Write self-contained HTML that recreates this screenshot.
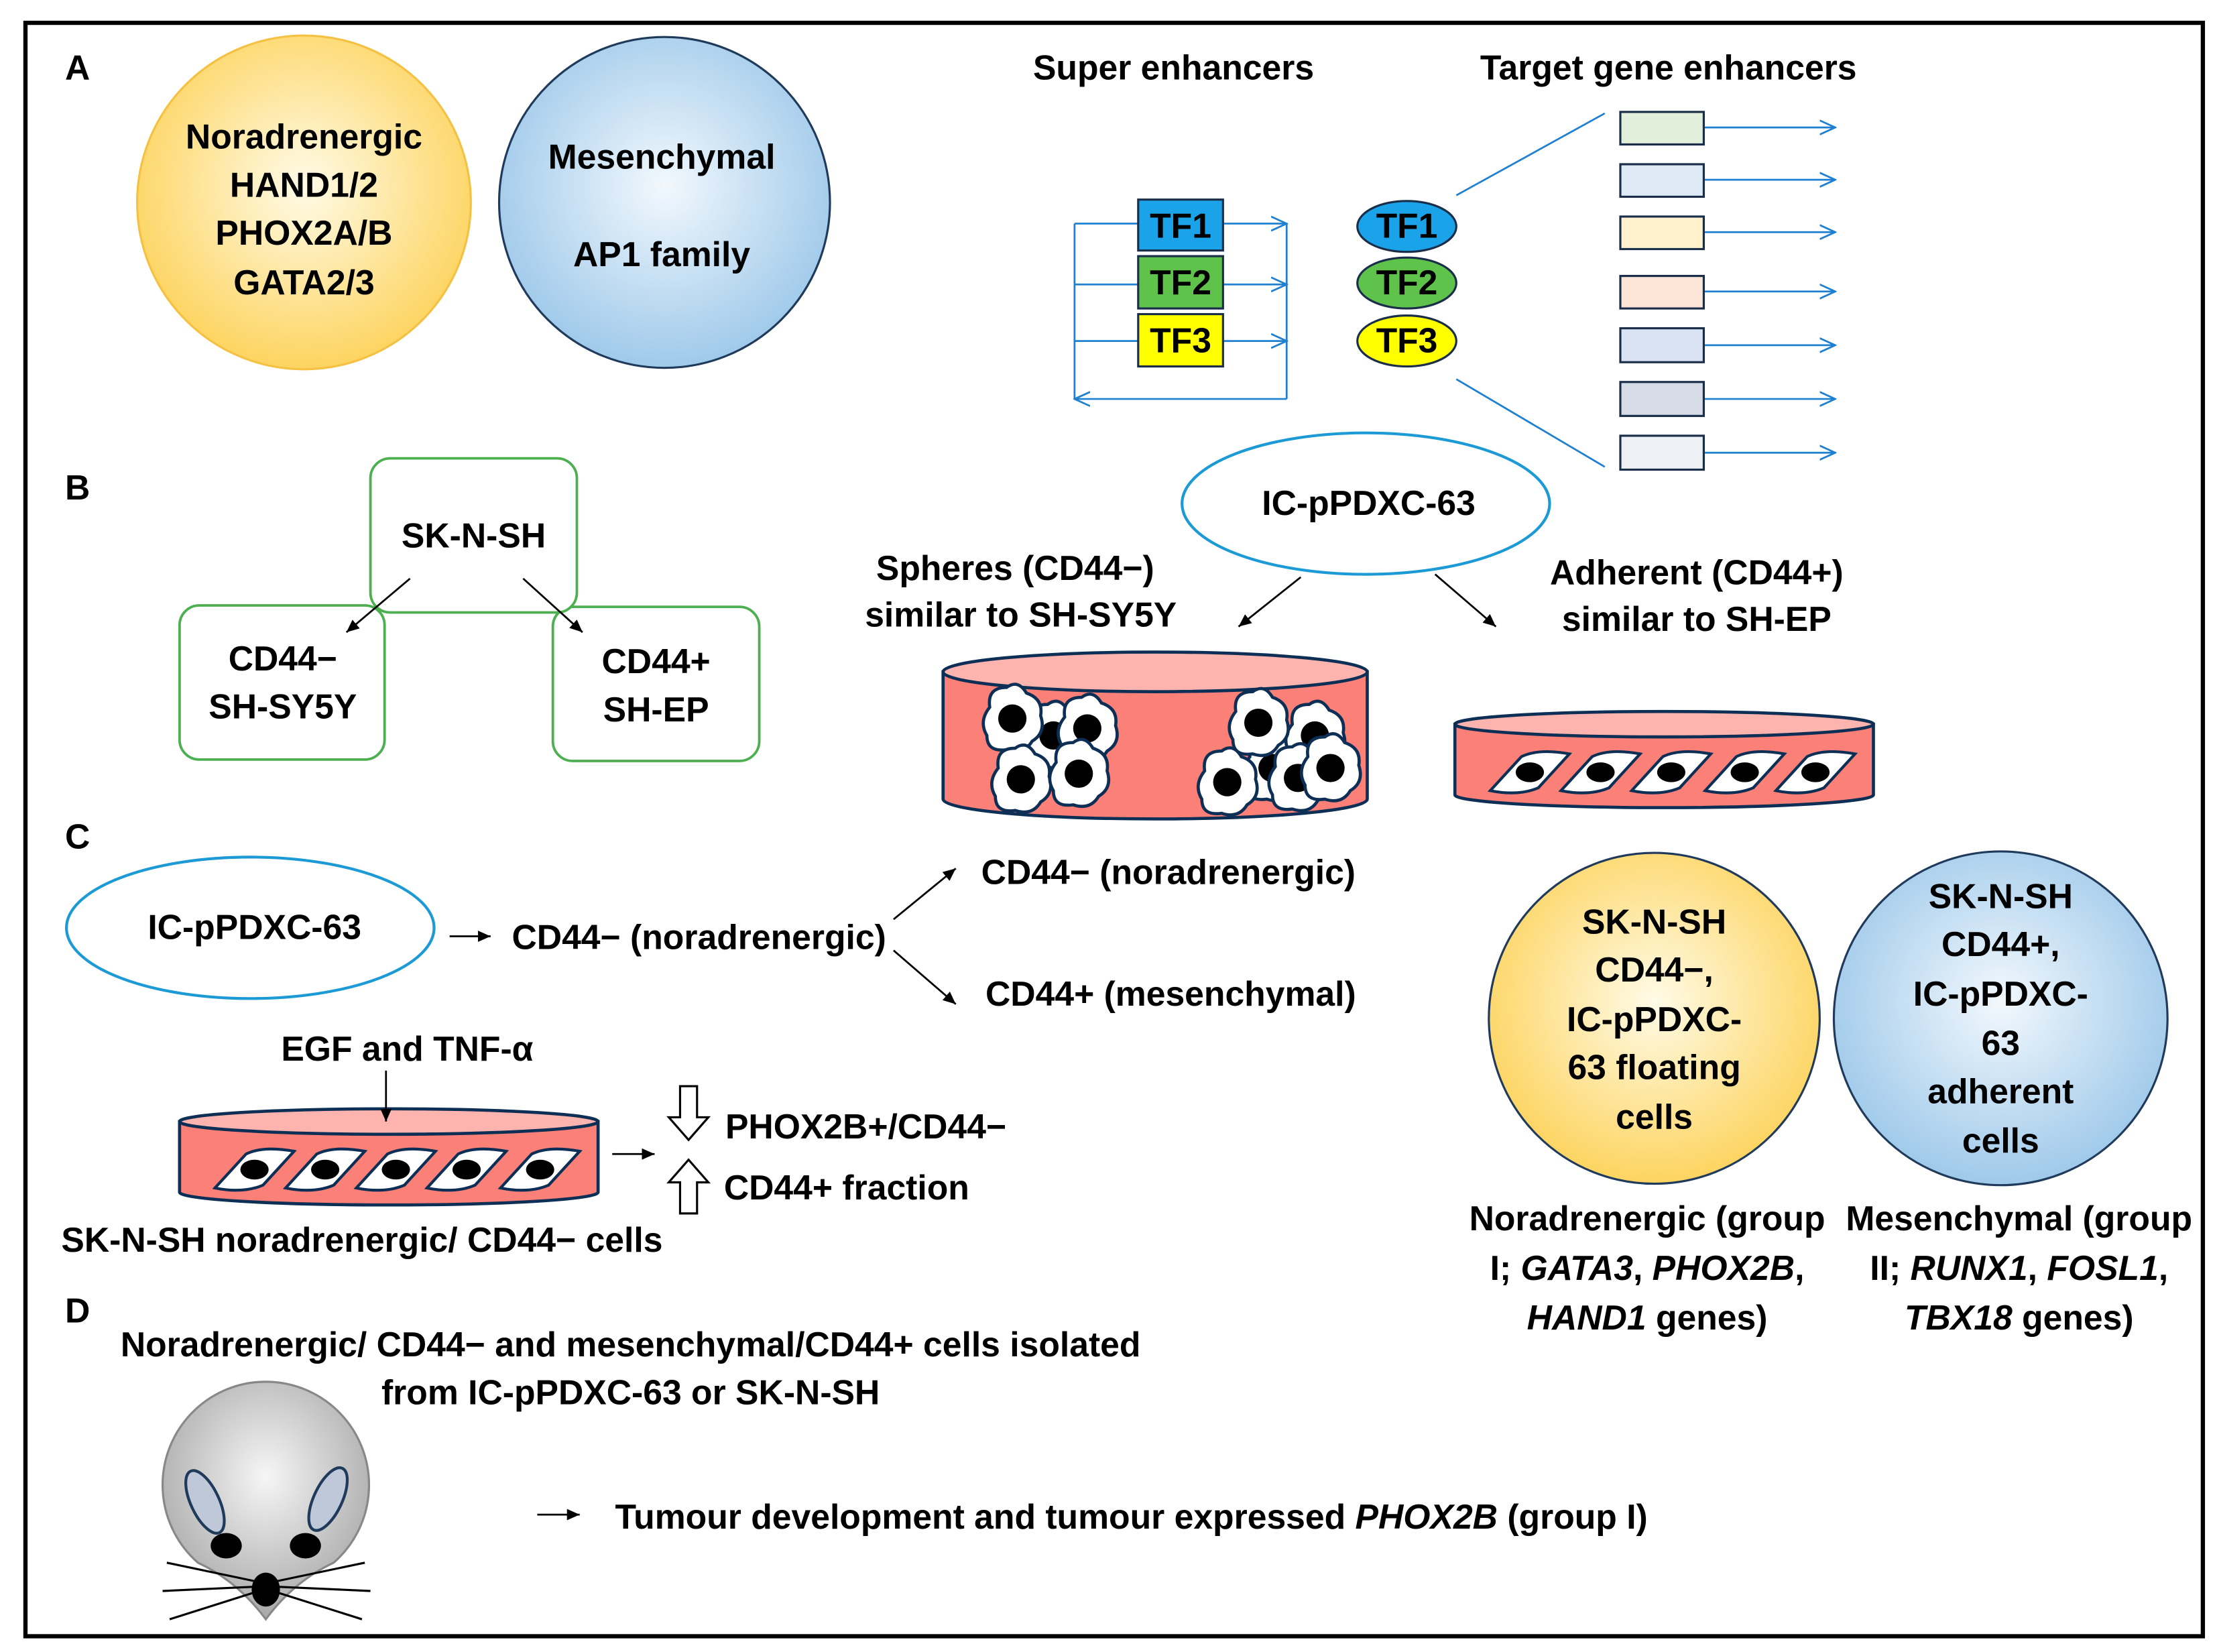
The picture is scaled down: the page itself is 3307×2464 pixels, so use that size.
<!DOCTYPE html>
<html><head><meta charset="utf-8"><style>html,body{margin:0;padding:0;background:#fff}svg{display:block}text{font-family:"Liberation Sans",sans-serif;font-weight:bold;font-size:24.5px;fill:#000}</style></head>
<body>
<svg width="3307" height="2464" viewBox="0 0 1568 1168" xmlns="http://www.w3.org/2000/svg">
<defs>
<radialGradient id="yg" cx="0.5" cy="0.45" r="0.55"><stop offset="0" stop-color="#fffbe8"/><stop offset="1" stop-color="#fdd460"/></radialGradient>
<radialGradient id="bg" cx="0.5" cy="0.45" r="0.55"><stop offset="0" stop-color="#f2f8fd"/><stop offset="1" stop-color="#9fc9ea"/></radialGradient>
<radialGradient id="gg" cx="0.5" cy="0.4" r="0.6"><stop offset="0" stop-color="#f6f6f6"/><stop offset="1" stop-color="#a8a8a8"/></radialGradient>
<marker id="ab" markerWidth="10" markerHeight="10" refX="9" refY="5" orient="auto" markerUnits="userSpaceOnUse"><path d="M0,1 L9,5 L0,9 Z" fill="#000"/></marker>
<marker id="al" markerWidth="12" markerHeight="12" refX="11" refY="6" orient="auto" markerUnits="userSpaceOnUse"><path d="M0,1 L11,6 L0,11" fill="none" stroke="#1f7fd0" stroke-width="1.3"/></marker>
<g id="cell"><path d="M-16,-8 Q-18,-22 -4,-22 Q4,-28 10,-18 Q22,-14 20,-2 Q24,10 14,16 Q8,26 -4,22 Q-18,24 -18,12 Q-24,2 -16,-8Z" fill="#fff" stroke="#0d2f55" stroke-width="2.2"/><circle cx="0" cy="0" r="10" fill="#000"/></g>
<g id="fl"><path d="M-28,14 L-6,-10 Q6,-16 28,-12 L6,12 Q-8,18 -28,14Z" fill="#fff" stroke="#0d2f55" stroke-width="2"/><ellipse cx="0" cy="1" rx="10" ry="7" fill="#000"/></g>
</defs>
<rect x="18" y="16" width="1540" height="1141" fill="none" stroke="#000" stroke-width="3"/>
<text x="46" y="56">A</text><text x="46" y="353">B</text><text x="46" y="600">C</text><text x="46" y="935">D</text>

<circle cx="215" cy="143" r="118" fill="url(#yg)" stroke="#f5c143" stroke-width="1.5"/>
<g text-anchor="middle"><text x="215" y="105">Noradrenergic</text><text x="215" y="139">HAND1/2</text><text x="215" y="173">PHOX2A/B</text><text x="215" y="208">GATA2/3</text></g>
<circle cx="470" cy="143" r="117" fill="url(#bg)" stroke="#1f3a5a" stroke-width="1.5"/>
<g text-anchor="middle"><text x="468" y="119">Mesenchymal</text><text x="468" y="188">AP1 family</text>
<text x="830" y="56">Super enhancers</text><text x="1180" y="56">Target gene enhancers</text></g>

<g stroke="#1f7fd0" stroke-width="1.3" fill="none">
<line x1="760" y1="158" x2="760" y2="282"/><line x1="910" y1="158" x2="910" y2="282"/>
<line x1="760" y1="158" x2="910" y2="158" marker-end="url(#al)"/>
<line x1="760" y1="201" x2="910" y2="201" marker-end="url(#al)"/>
<line x1="760" y1="241" x2="910" y2="241" marker-end="url(#al)"/>
<line x1="910" y1="282" x2="760" y2="282" marker-end="url(#al)"/>
<line x1="1030" y1="138" x2="1135" y2="80"/><line x1="1030" y1="268" x2="1135" y2="330"/>
<line x1="1205" y1="90" x2="1298" y2="90" marker-end="url(#al)"/>
<line x1="1205" y1="127" x2="1298" y2="127" marker-end="url(#al)"/>
<line x1="1205" y1="164" x2="1298" y2="164" marker-end="url(#al)"/>
<line x1="1205" y1="206" x2="1298" y2="206" marker-end="url(#al)"/>
<line x1="1205" y1="244" x2="1298" y2="244" marker-end="url(#al)"/>
<line x1="1205" y1="282" x2="1298" y2="282" marker-end="url(#al)"/>
<line x1="1205" y1="320" x2="1298" y2="320" marker-end="url(#al)"/>
</g>
<g stroke="#1a2e4a" stroke-width="1.5">
<rect x="805" y="141" width="60" height="36" fill="#1aa3e8"/><rect x="805" y="181" width="60" height="37" fill="#5fc24a"/><rect x="805" y="222" width="60" height="37" fill="#ffff00"/>
<ellipse cx="995" cy="160" rx="35" ry="18" fill="#1aa3e8"/><ellipse cx="995" cy="200" rx="35" ry="18" fill="#5fc24a"/><ellipse cx="995" cy="241" rx="35" ry="18" fill="#ffff00"/>
<rect x="1146" y="79" width="59" height="23" fill="#e2efda"/><rect x="1146" y="116" width="59" height="23" fill="#deebf7"/><rect x="1146" y="153" width="59" height="23" fill="#fff2cc"/><rect x="1146" y="195" width="59" height="23" fill="#fce4d6"/><rect x="1146" y="232" width="59" height="24" fill="#dae3f3"/><rect x="1146" y="270" width="59" height="24" fill="#d6dce5"/><rect x="1146" y="308" width="59" height="24" fill="#edf0f5"/>
</g>
<g text-anchor="middle"><text x="835" y="168">TF1</text><text x="835" y="208">TF2</text><text x="835" y="249">TF3</text><text x="995" y="168">TF1</text><text x="995" y="208">TF2</text><text x="995" y="249">TF3</text></g>

<g fill="none" stroke="#4caf50" stroke-width="1.8">
<rect x="127" y="428" width="145" height="109" rx="14"/><rect x="391" y="429" width="146" height="109" rx="14"/>
<rect x="262" y="324" width="146" height="109" rx="14" fill="#fff"/>
</g>
<g text-anchor="middle"><text x="335" y="387">SK-N-SH</text><text x="200" y="474">CD44−</text><text x="200" y="508">SH-SY5Y</text><text x="464" y="476">CD44+</text><text x="464" y="510">SH-EP</text></g>

<ellipse cx="966" cy="356" rx="130" ry="50" fill="#fff" stroke="#1c9ad6" stroke-width="2"/>
<text x="968" y="364" text-anchor="middle">IC-pPDXC-63</text>
<g text-anchor="middle"><text x="718" y="410">Spheres (CD44−)</text><text x="722" y="443">similar to SH-SY5Y</text><text x="1200" y="413">Adherent (CD44+)</text><text x="1200" y="446">similar to SH-EP</text></g>

<g stroke="#0d2f55" stroke-width="2.2">
<path d="M667,475 L667,565 A150,14 0 0 0 967,565 L967,475 Z" fill="#fa8078"/>
<ellipse cx="817" cy="475" rx="150" ry="14" fill="#fdb3ae"/>
<path d="M1029,512 L1029,562 A148,9 0 0 0 1325,562 L1325,512 Z" fill="#fa8078"/>
<ellipse cx="1177" cy="512" rx="148" ry="9" fill="#fdb3ae"/>
<path d="M127,793 L127,843 A148,9 0 0 0 423,843 L423,793 Z" fill="#fa8078"/>
<ellipse cx="275" cy="793" rx="148" ry="9" fill="#fdb3ae"/>
</g>
<use href="#cell" x="745" y="520"/><use href="#cell" x="716" y="508"/><use href="#cell" x="769" y="515"/><use href="#cell" x="722" y="551"/><use href="#cell" x="763" y="547"/>
<use href="#cell" x="900" y="543"/><use href="#cell" x="930" y="520"/><use href="#cell" x="890" y="511"/><use href="#cell" x="918" y="550"/><use href="#cell" x="868" y="553"/><use href="#cell" x="941" y="543"/>
<use href="#fl" x="1082" y="545"/><use href="#fl" x="1132" y="545"/><use href="#fl" x="1182" y="545"/><use href="#fl" x="1234" y="545"/><use href="#fl" x="1284" y="545"/>
<use href="#fl" x="180" y="826"/><use href="#fl" x="230" y="826"/><use href="#fl" x="280" y="826"/><use href="#fl" x="330" y="826"/><use href="#fl" x="382" y="826"/>

<g stroke="#000" stroke-width="1.3"><line x1="290" y1="409" x2="245" y2="447" marker-end="url(#ab)"/><line x1="370" y1="409" x2="412" y2="447" marker-end="url(#ab)"/>
<line x1="920" y1="408" x2="876" y2="443" marker-end="url(#ab)"/><line x1="1015" y1="406" x2="1058" y2="443" marker-end="url(#ab)"/>
<line x1="318" y1="662" x2="347" y2="662" marker-end="url(#ab)"/><line x1="632" y1="650" x2="676" y2="614" marker-end="url(#ab)"/><line x1="632" y1="672" x2="676" y2="710" marker-end="url(#ab)"/>
<line x1="273" y1="757" x2="273" y2="793" marker-end="url(#ab)"/><line x1="433" y1="816" x2="463" y2="816" marker-end="url(#ab)"/>
<line x1="380" y1="1071" x2="410" y2="1071" marker-end="url(#ab)"/></g>

<ellipse cx="177" cy="656" rx="130" ry="50" fill="#fff" stroke="#1c9ad6" stroke-width="2"/>
<text x="180" y="664" text-anchor="middle">IC-pPDXC-63</text>
<text x="362" y="671">CD44− (noradrenergic)</text><text x="694" y="625">CD44− (noradrenergic)</text><text x="697" y="711">CD44+ (mesenchymal)</text>
<text x="288" y="750" text-anchor="middle">EGF and TNF-α</text>
<path d="M481,768 L493,768 L493,790 L501,790 L487,806 L473,790 L481,790Z" fill="#fff" stroke="#000" stroke-width="1.5"/>
<path d="M481,858 L493,858 L493,836 L501,836 L487,820 L473,836 L481,836Z" fill="#fff" stroke="#000" stroke-width="1.5"/>
<text x="513" y="805">PHOX2B+/CD44−</text><text x="512" y="848">CD44+ fraction</text>
<text x="256" y="885" text-anchor="middle">SK-N-SH noradrenergic/ CD44− cells</text>

<circle cx="1170" cy="720" r="117" fill="url(#yg)" stroke="#1f3a5a" stroke-width="1.5"/>
<circle cx="1415" cy="720" r="118" fill="url(#bg)" stroke="#1f3a5a" stroke-width="1.5"/>
<g text-anchor="middle">
<text x="1170" y="660">SK-N-SH</text><text x="1170" y="694">CD44−,</text><text x="1170" y="729">IC-pPDXC-</text><text x="1170" y="763">63 floating</text><text x="1170" y="798">cells</text>
<text x="1415" y="642">SK-N-SH</text><text x="1415" y="676">CD44+,</text><text x="1415" y="711">IC-pPDXC-</text><text x="1415" y="746">63</text><text x="1415" y="780">adherent</text><text x="1415" y="815">cells</text>
<text x="1165" y="870">Noradrenergic (group</text><text x="1165" y="905">I; <tspan font-style="italic">GATA3</tspan>, <tspan font-style="italic">PHOX2B</tspan>,</text><text x="1165" y="940"><tspan font-style="italic">HAND1</tspan> genes)</text>
<text x="1428" y="870">Mesenchymal (group</text><text x="1428" y="905">II; <tspan font-style="italic">RUNX1</tspan>, <tspan font-style="italic">FOSL1</tspan>,</text><text x="1428" y="940"><tspan font-style="italic">TBX18</tspan> genes)</text>
<text x="446" y="959">Noradrenergic/ CD44− and mesenchymal/CD44+ cells isolated</text><text x="446" y="993">from IC-pPDXC-63 or SK-N-SH</text>
</g>
<path d="M188,1145 Q168,1118 140,1105 A73,73 0 1 1 236,1105 Q208,1118 188,1145Z" fill="url(#gg)" stroke="#888" stroke-width="1.5"/>
<ellipse cx="145" cy="1062" rx="10" ry="24" transform="rotate(-25 145 1062)" fill="#bfc8d8" stroke="#1f3a5a" stroke-width="2"/>
<ellipse cx="232" cy="1060" rx="10" ry="24" transform="rotate(25 232 1060)" fill="#bfc8d8" stroke="#1f3a5a" stroke-width="2"/>
<ellipse cx="160" cy="1093" rx="11" ry="9" fill="#000"/><ellipse cx="216" cy="1093" rx="11" ry="9" fill="#000"/>
<g stroke="#000" stroke-width="1.5"><line x1="118" y1="1105" x2="180" y2="1118"/><line x1="115" y1="1125" x2="180" y2="1122"/><line x1="120" y1="1145" x2="180" y2="1126"/><line x1="196" y1="1118" x2="258" y2="1105"/><line x1="196" y1="1122" x2="262" y2="1125"/><line x1="196" y1="1126" x2="256" y2="1145"/></g>
<ellipse cx="188" cy="1124" rx="10" ry="12" fill="#000"/>
<text x="435" y="1081">Tumour development and tumour expressed <tspan font-style="italic">PHOX2B</tspan> (group I)</text>
</svg>
</body></html>
